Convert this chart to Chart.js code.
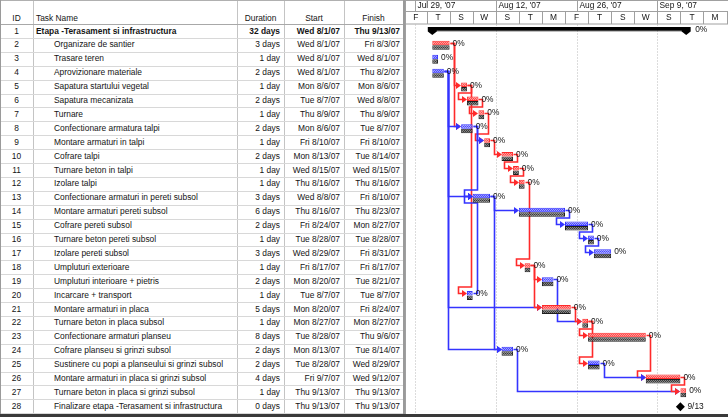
<!DOCTYPE html>
<html>
<head>
<meta charset="utf-8">
<title>Etapa - Terasament si infrastructura</title>
<script src="https://cdn.jsdelivr.net/npm/chart.js@4.4.1/dist/chart.umd.min.js"></script>
<style>
  html, body { margin:0; padding:0; background:#fff; }
  body { width:728px; height:417px; position:relative; overflow:hidden; font-family:"Liberation Sans", Arial, sans-serif; }
  #table { position:absolute; left:0; top:0; width:403px; height:417px; }
  .cell { position:absolute; font-size:8.4px; white-space:nowrap; color:#141414; box-sizing:border-box; overflow:hidden; }
  .vline { position:absolute; top:0; width:1px; background:#c4c4c4; }
  .hline { position:absolute; height:1px; background:#d8d8d8; }
  #gantt { position:absolute; left:405px; top:0; }
  #divider { position:absolute; left:403px; top:0; width:2px; height:417px; background:#9a9a9a; }
  #bottom { position:absolute; left:0; top:414px; width:728px; height:3px; background:#3a3a3a; }
  #leftb { position:absolute; left:0; top:0; width:1px; height:417px; background:#9a9a9a; }
</style>
</head>
<body>
<div id="table"></div>
<div id="leftb"></div>
<div id="divider"></div>
<canvas id="gantt" width="323" height="417"></canvas>
<div id="bottom"></div>
<script>
// ---------------- DATA ----------------
const taskIds = [1,2,3,4,5,6,7,8,9,10,11,12,13,14,15,16,17,18,19,20,21,22,23,24,25,26,27,28];
const taskNames = [
  "Etapa -Terasament si infrastructura",
  "Organizare de santier",
  "Trasare teren",
  "Aprovizionare materiale",
  "Sapatura startului vegetal",
  "Sapatura mecanizata",
  "Turnare",
  "Confectionare armatura talpi",
  "Montare armaturi in talpi",
  "Cofrare talpi",
  "Turnare beton in talpi",
  "Izolare talpi",
  "Confectionare armaturi in pereti subsol",
  "Montare armaturi pereti subsol",
  "Cofrare pereti subsol",
  "Turnare beton pereti subsol",
  "Izolare pereti subsol",
  "Umpluturi exterioare",
  "Umpluturi interioare + pietris",
  "Incarcare + transport",
  "Montare armaturi in placa",
  "Turnare beton in placa subsol",
  "Confectionare armaturi planseu",
  "Cofrare planseu si grinzi subsol",
  "Sustinere cu popi a planseului si grinzi subsol",
  "Montare armaturi in placa si grinzi subsol",
  "Turnare beton in placa si grinzi subsol",
  "Finalizare etapa -Terasament si infrastructura"
];
const taskLevels = [0,1,1,1,1,1,1,1,1,1,1,1,1,1,1,1,1,1,1,1,1,1,1,1,1,1,1,1];
const durations = ["32 days","3 days","1 day","2 days","1 day","2 days","1 day","2 days","1 day","2 days","1 day","1 day","3 days","6 days","2 days","1 day","3 days","1 day","2 days","1 day","5 days","1 day","8 days","2 days","2 days","4 days","1 day","0 days"];
const startLabels = ["Wed 8/1/07","Wed 8/1/07","Wed 8/1/07","Wed 8/1/07","Mon 8/6/07","Tue 8/7/07","Thu 8/9/07","Mon 8/6/07","Fri 8/10/07","Mon 8/13/07","Wed 8/15/07","Thu 8/16/07","Wed 8/8/07","Thu 8/16/07","Fri 8/24/07","Tue 8/28/07","Wed 8/29/07","Fri 8/17/07","Mon 8/20/07","Tue 8/7/07","Mon 8/20/07","Mon 8/27/07","Tue 8/28/07","Mon 8/13/07","Tue 8/28/07","Fri 9/7/07","Thu 9/13/07","Thu 9/13/07"];
const finishLabels = ["Thu 9/13/07","Fri 8/3/07","Wed 8/1/07","Thu 8/2/07","Mon 8/6/07","Wed 8/8/07","Thu 8/9/07","Tue 8/7/07","Fri 8/10/07","Tue 8/14/07","Wed 8/15/07","Thu 8/16/07","Fri 8/10/07","Thu 8/23/07","Mon 8/27/07","Tue 8/28/07","Fri 8/31/07","Fri 8/17/07","Tue 8/21/07","Tue 8/7/07","Fri 8/24/07","Mon 8/27/07","Thu 9/6/07","Tue 8/14/07","Wed 8/29/07","Wed 9/12/07","Thu 9/13/07","Thu 9/13/07"];
// days counted from Sun Jul 29 '07 (day 0)
const startDay = [3,3,3,3,8,9,11,8,12,15,17,18,10,18,26,30,31,19,22,9,22,29,30,15,30,40,46,46];
const endDay   = [47,6,4,5,9,11,12,10,13,17,18,19,13,26,30,31,34,20,24,10,27,30,40,17,32,46,47,46];
const taskTypes = ["summary","task","task","task","task","task","task","task","task","task","task","task","task","task","task","task","task","task","task","task","task","task","task","task","task","task","task","milestone"];
const critical = [1,1,0,0,1,1,1,0,1,1,1,1,0,0,0,0,0,1,0,0,1,1,1,0,0,1,1,1];
const percentComplete = [0,0,0,0,0,0,0,0,0,0,0,0,0,0,0,0,0,0,0,0,0,0,0,0,0,0,0,0];
const milestoneLabel = "9/13";
// finish-to-start links
const linkFrom = [2,2,4,4,4,4,5,5,6,7,8,8,9,10,11,12,13,13,14,15,16,18,18,19,20,21,22,22,23,24,25,26];
const linkTo   = [5,8,8,13,21,24,6,20,7,9,9,13,10,11,12,18,14,24,15,16,17,19,21,22,13,22,23,25,26,27,26,27];
// timescale
const majorTickDays = [0,14,28,42];
const majorTickLabels = ["Jul 29, '07","Aug 12, '07","Aug 26, '07","Sep 9, '07"];
const minorTickDays = [-2,2,6,10,14,18,22,26,30,34,38,42,46,50];
const minorTickLabels = ["F","T","S","W","S","T","M","F","T","S","W","S","T","M"];
const VIEW_START = -1.73, VIEW_END = 54.25;

// ---------------- LAYOUT ----------------
const ROW_TOP = 24.5, ROW_H = 13.9, NROWS = taskIds.length;
const RED = '#ff2a2a', BLUE = '#3434ff';
const FONT = '8.4px "Liberation Sans", Arial, sans-serif';

// ---------------- TABLE (HTML) ----------------
const COLS = [
  {left:0,   right:33,  align:'center', head:'ID',        headAlign:'center', val:i=>String(taskIds[i])},
  {left:33,  right:237, align:'left',   head:'Task Name', headAlign:'left',   val:i=>taskNames[i]},
  {left:237, right:284, align:'right',  head:'Duration',  headAlign:'center', val:i=>durations[i]},
  {left:284, right:344, align:'right',  head:'Start',     headAlign:'center', val:i=>startLabels[i]},
  {left:344, right:403, align:'right',  head:'Finish',    headAlign:'center', val:i=>finishLabels[i]}
];
const tbl = document.getElementById('table');
function mk(cls, css, text){
  const d = document.createElement('div');
  d.className = cls; Object.assign(d.style, css);
  if (text !== undefined) d.textContent = text;
  tbl.appendChild(d); return d;
}
COLS.forEach((c, ci) => {
  mk('cell', {left:c.left+'px', width:(c.right-c.left)+'px', top:'11.5px', height:'12px', lineHeight:'12px',
    textAlign:c.headAlign, paddingLeft:(c.headAlign==='left'?'3px':'0')}, c.head);
  if (ci>0) mk('vline', {left:c.left+'px', height:(ROW_TOP+NROWS*ROW_H)+'px'});
});
mk('hline', {left:'0px', width:'403px', top:'0px', background:'#b0b0b0'});
mk('hline', {left:'0px', width:'403px', top:(ROW_TOP-1)+'px', background:'#a8a8a8'});
for (let i=0;i<NROWS;i++){
  const top = ROW_TOP + i*ROW_H;
  COLS.forEach((c, ci) => {
    const css = {left:c.left+'px', width:(c.right-c.left)+'px', top:top+'px', height:ROW_H+'px', lineHeight:ROW_H+'px', textAlign:c.align};
    if (ci===1) css.paddingLeft = (3 + taskLevels[i]*18)+'px';
    if (c.align==='right') css.paddingRight = (ci===4?'3px':'4px');
    if (taskTypes[i]==='summary' && ci>0) css.fontWeight = 'bold';
    mk('cell', css, c.val(i));
  });
  mk('hline', {left:'0px', width:'403px', top:(top+ROW_H-0.5)+'px'});
}

// ---------------- PATTERNS ----------------
function checker(a, b){
  const c = document.createElement('canvas'); c.width = 2; c.height = 2;
  const g = c.getContext('2d');
  g.fillStyle = a; g.fillRect(0,0,2,2);
  g.fillStyle = b; g.fillRect(0,0,1,1); g.fillRect(1,1,1,1);
  return g.createPattern(c, 'repeat');
}
const ctx0 = document.getElementById('gantt').getContext('2d');
const redFill = checker('#ff9a9a', '#ff4a4a');
const blueFill = checker('#a0a0ff', '#4a4aff');
const grayFill = checker('#3a3a3a', '#858585');

// ---------------- DATASETS ----------------
const actualData = taskIds.map((id,i)=> taskTypes[i]==='milestone' ? null : [startDay[i], endDay[i]]);
const baselineData = taskIds.map((id,i)=> taskTypes[i]==='task' ? [startDay[i], endDay[i]] : null);
const actualBg = taskIds.map((id,i)=> taskTypes[i]==='summary' ? '#000' : (critical[i] ? redFill : blueFill));
const actualBorder = taskIds.map((id,i)=> taskTypes[i]==='summary' ? '#000' : (critical[i] ? RED : BLUE));

// ---------------- PLUGINS ----------------
const headerPlugin = {
  id:'ganttHeader',
  beforeDraw(chart){
    const g = chart.ctx, xs = chart.scales.x, W = chart.width, top = chart.chartArea.top;
    g.save();
    g.fillStyle = '#fff'; g.fillRect(0,0,W,chart.height);
    g.strokeStyle = '#a0a0a0'; g.lineWidth = 1;
    g.beginPath();
    g.moveTo(0,0.5); g.lineTo(W,0.5);
    g.moveTo(0,11.5); g.lineTo(W,11.5);
    g.moveTo(0,top-0.5); g.lineTo(W,top-0.5);
    g.moveTo(0.5,0); g.lineTo(0.5,chart.height);
    g.stroke();
    g.font = FONT;
    g.fillStyle = '#141414'; g.textBaseline = 'middle';
    majorTickDays.forEach((d,k)=>{
      const x = Math.round(xs.getPixelForValue(d)) + 0.5;
      g.beginPath(); g.moveTo(x,0); g.lineTo(x,11.5); g.stroke();
      g.textAlign = 'left';
      g.fillText(majorTickLabels[k], x+2, 6);
    });
    minorTickDays.forEach((d,k)=>{
      const x0 = xs.getPixelForValue(d), x1 = xs.getPixelForValue(d+4);
      const xr = Math.round(x1) + 0.5;
      g.beginPath(); g.moveTo(xr,11.5); g.lineTo(xr,top-0.5); g.stroke();
      g.textAlign = 'center';
      g.fillText(minorTickLabels[k], (Math.max(x0,0)+Math.min(x1,W))/2, 17.5);
    });
    g.restore();
  },
  beforeDatasetsDraw(chart){
    const g = chart.ctx, xs = chart.scales.x, ca = chart.chartArea;
    g.save();
    g.strokeStyle = '#b8b8b8'; g.lineWidth = 1; g.setLineDash([1,2]);
    majorTickDays.forEach(d=>{
      const x = Math.round(xs.getPixelForValue(d)) + 0.5;
      g.beginPath(); g.moveTo(x, ca.top); g.lineTo(x, ca.bottom); g.stroke();
    });
    g.setLineDash([]);
    const m0 = chart.getDatasetMeta(0);
    linkFrom.forEach((p,k)=>{
      const s = linkTo[k];
      const pi = p-1, si = s-1;
      const xe = Math.round(xs.getPixelForValue(endDay[pi])) + 0.5;
      const xS = Math.round(xs.getPixelForValue(startDay[si]));
      const yp = Math.round(m0.data[pi].y) + 0.5;
      const yS = Math.round(m0.data[si].y) + 0.5;
      const col = critical[pi] ? RED : BLUE;
      g.strokeStyle = col; g.fillStyle = col; g.lineWidth = 1.6;
      g.beginPath();
      g.moveTo(xe, yp); g.lineTo(xe+4, yp);
      if (xS - xe >= 10) {
        g.lineTo(xe+4, yS); g.lineTo(xS-5, yS);
      } else {
        const dir = yS > yp ? 1 : -1;
        const ym = yS - dir*6.5;
        const xl = xS - 8.5;
        g.lineTo(xe+4, ym); g.lineTo(xl, ym); g.lineTo(xl, yS); g.lineTo(xS-5, yS);
      }
      g.stroke();
      g.beginPath();
      g.moveTo(xS, yS); g.lineTo(xS-5, yS-3.5); g.lineTo(xS-5, yS+3.5); g.closePath(); g.fill();
    });
    g.restore();
  },
  afterDatasetsDraw(chart){
    const g = chart.ctx, xs = chart.scales.x, ys = chart.scales.y;
    const m0 = chart.getDatasetMeta(0);
    g.save();
    g.font = FONT;
    g.fillStyle = '#141414'; g.textBaseline = 'middle'; g.textAlign = 'left';
    taskIds.forEach((id,i)=>{
      if (taskTypes[i]==='summary') {
        const el = m0.data[i];
        const top = el.y - el.height/2, bot = el.y + el.height/2;
        g.fillStyle = '#000';
        [startDay[i], endDay[i]].forEach(d=>{
          const x = xs.getPixelForValue(d);
          g.beginPath();
          g.moveTo(x-4.5, top); g.lineTo(x+4.5, top); g.lineTo(x+4.5, bot);
          g.lineTo(x, bot+3.5); g.lineTo(x-4.5, bot); g.closePath(); g.fill();
        });
        g.fillStyle = '#141414';
        g.fillText(percentComplete[i]+'%', xs.getPixelForValue(endDay[i])+9, el.y);
      } else if (taskTypes[i]==='milestone') {
        const x = xs.getPixelForValue(startDay[i]), y = ys.getPixelForValue(i);
        g.fillStyle = '#000';
        g.beginPath();
        g.moveTo(x, y-4.5); g.lineTo(x+4.5, y); g.lineTo(x, y+4.5); g.lineTo(x-4.5, y); g.closePath(); g.fill();
        g.fillStyle = '#141414';
        g.fillText(milestoneLabel, x+7, y);
      } else {
        const el = m0.data[i];
        g.fillText(percentComplete[i]+'%', xs.getPixelForValue(endDay[i])+3, el.y+0.5);
      }
    });
    g.restore();
  }
};

new Chart(ctx0, {
  type:'bar',
  data:{
    labels: taskIds.map(String),
    datasets:[
      {label:'Schedule', data:actualData, backgroundColor:actualBg, borderColor:actualBorder, borderWidth:1, borderSkipped:false},
      {label:'Baseline', data:baselineData, backgroundColor:grayFill, borderColor:'#1e1e1e', borderWidth:1, borderSkipped:false}
    ]
  },
  options:{
    indexAxis:'y', responsive:false, animation:false, devicePixelRatio:1,
    layout:{padding:{top:ROW_TOP, bottom:417-(ROW_TOP+NROWS*ROW_H), left:0, right:0}},
    plugins:{legend:{display:false}, tooltip:{enabled:false}},
    datasets:{bar:{categoryPercentage:0.65, barPercentage:1.0}},
    scales:{
      x:{type:'linear', min:VIEW_START, max:VIEW_END, display:false},
      y:{type:'category', display:false, offset:true}
    }
  },
  plugins:[headerPlugin]
});
</script>
</body>
</html>
